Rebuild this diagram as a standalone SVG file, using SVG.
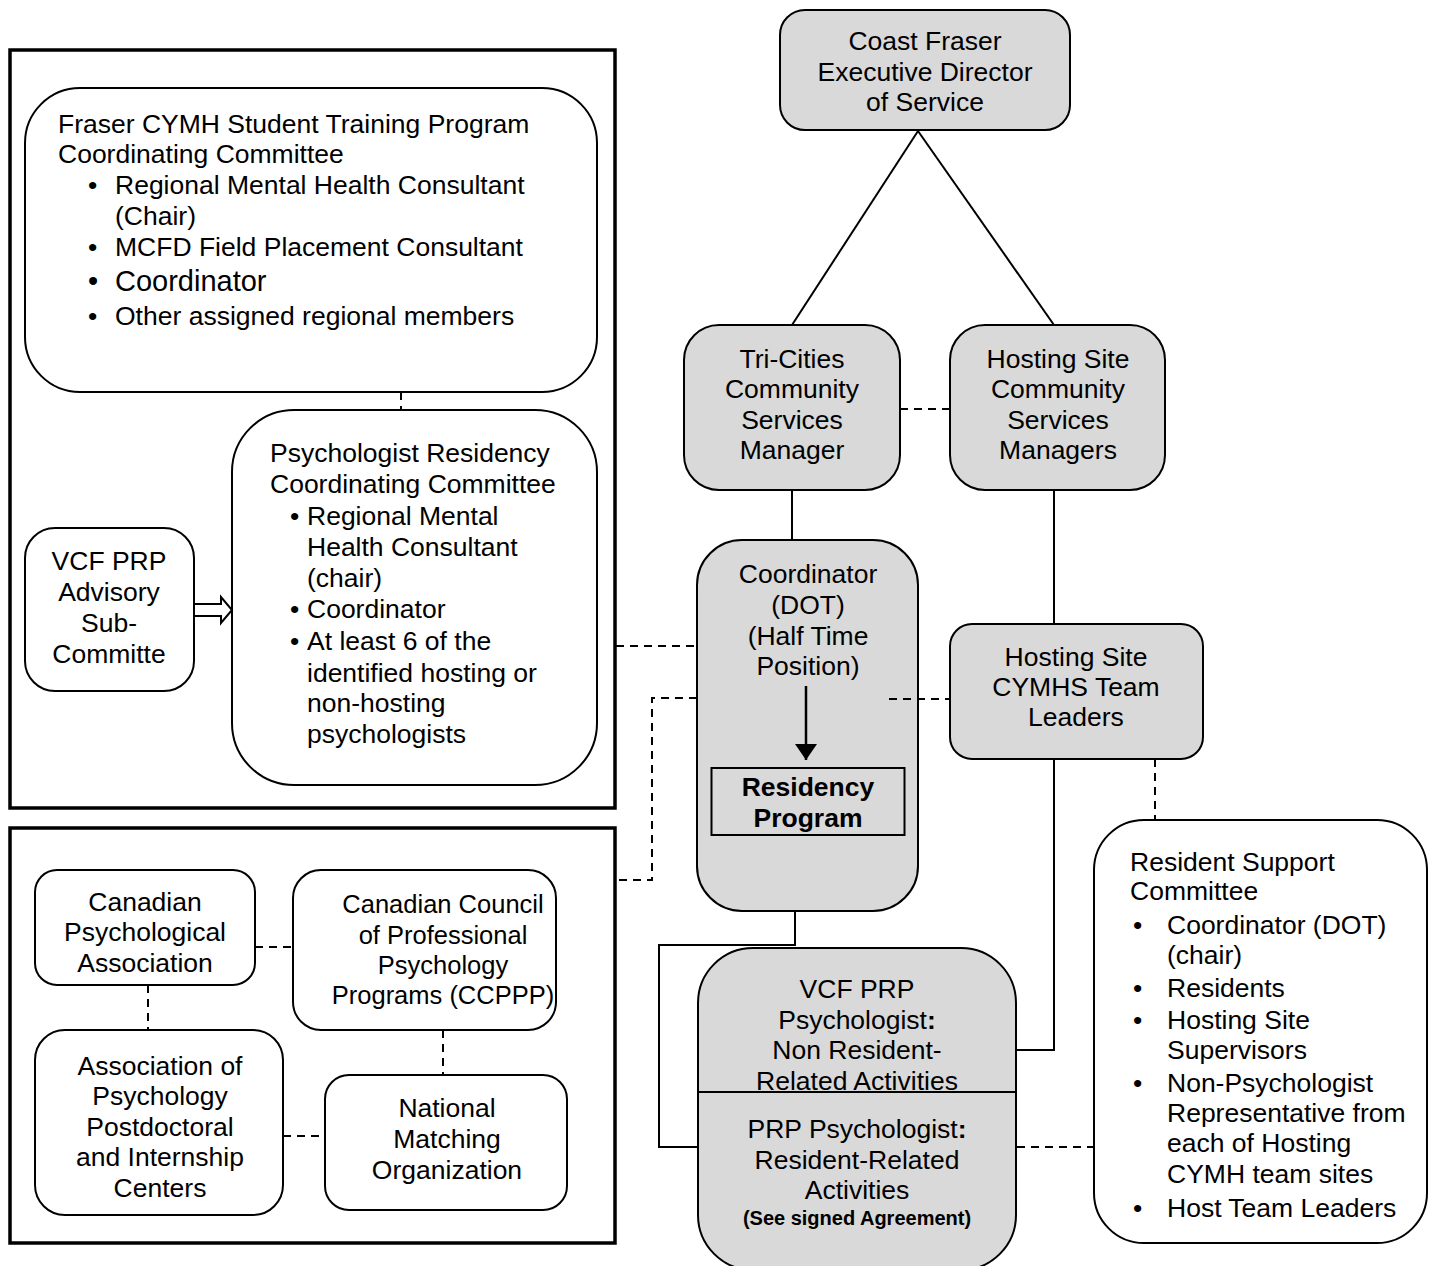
<svg xmlns="http://www.w3.org/2000/svg" width="1434" height="1266" viewBox="0 0 1434 1266">
<style>
text{font-family:"Liberation Sans",Arial,sans-serif;font-size:26.5px;fill:#000}
.c{text-anchor:middle}
.b{font-weight:bold}
.n{fill:#fff;stroke:#000;stroke-width:2}
.g{fill:#d9d9d9;stroke:#000;stroke-width:2}
.box{fill:none;stroke:#000;stroke-width:3.5}
.s{fill:none;stroke:#000;stroke-width:2}
.d{fill:none;stroke:#000;stroke-width:2;stroke-dasharray:8,6}
</style>
<defs>
<marker id="ah" viewBox="0 0 16 22" refX="16" refY="11" markerWidth="16" markerHeight="22" markerUnits="userSpaceOnUse" orient="auto">
<path d="M0,0 L16,11 L0,22 Z" fill="#000"/>
</marker>
</defs>
<rect width="1434" height="1266" fill="#fff"/>

<g id="group-top">
<rect class="box" x="10" y="50" width="605" height="758"/>
</g>
<g id="group-bottom">
<rect class="box" x="10" y="828" width="605" height="415"/>
</g>

<g id="fraser-committee">
<rect class="n" x="25" y="88" width="572" height="304" rx="55"/>
<text x="58" y="133">Fraser CYMH Student Training Program</text>
<text x="58" y="163">Coordinating Committee</text>
<text x="88" y="194">•</text><text x="115" y="194">Regional Mental Health Consultant</text>
<text x="115" y="225">(Chair)</text>
<text x="88" y="256">•</text><text x="115" y="256">MCFD Field Placement Consultant</text>
<text x="88" y="291" style="font-size:29px">•</text><text x="115" y="291" style="font-size:29px">Coordinator</text>
<text x="88" y="325">•</text><text x="115" y="325">Other assigned regional members</text>
</g>

<g id="residency-committee">
<rect class="n" x="232" y="410" width="365" height="375" rx="62"/>
<text x="270" y="462">Psychologist Residency</text>
<text x="270" y="493">Coordinating Committee</text>
<text x="290" y="525">•</text><text x="307" y="525">Regional Mental</text>
<text x="307" y="556">Health Consultant</text>
<text x="307" y="587">(chair)</text>
<text x="290" y="618">•</text><text x="307" y="618">Coordinator</text>
<text x="290" y="650">•</text><text x="307" y="650">At least 6 of the</text>
<text x="307" y="682">identified hosting or</text>
<text x="307" y="712">non-hosting</text>
<text x="307" y="743">psychologists</text>
</g>

<g id="advisory">
<rect class="n" x="25" y="528" width="169" height="163" rx="30"/>
<text class="c" x="109" y="570">VCF PRP</text>
<text class="c" x="109" y="601">Advisory</text>
<text class="c" x="109" y="632">Sub-</text>
<text class="c" x="109" y="663">Committe</text>
</g>

<g id="coast-fraser">
<rect class="g" x="780" y="10" width="290" height="120" rx="25"/>
<text class="c" x="925" y="50">Coast Fraser</text>
<text class="c" x="925" y="81">Executive Director</text>
<text class="c" x="925" y="111">of Service</text>
</g>

<g id="tri-cities">
<rect class="g" x="684" y="325" width="216" height="165" rx="35"/>
<text class="c" x="792" y="368">Tri-Cities</text>
<text class="c" x="792" y="398">Community</text>
<text class="c" x="792" y="429">Services</text>
<text class="c" x="792" y="459">Manager</text>
</g>

<g id="hosting-csm">
<rect class="g" x="950" y="325" width="215" height="165" rx="35"/>
<text class="c" x="1058" y="368">Hosting Site</text>
<text class="c" x="1058" y="398">Community</text>
<text class="c" x="1058" y="429">Services</text>
<text class="c" x="1058" y="459">Managers</text>
</g>

<g id="coordinator">
<rect class="g" x="697" y="540" width="221" height="371" rx="45"/>
<text class="c" x="808" y="583">Coordinator</text>
<text class="c" x="808" y="614">(DOT)</text>
<text class="c" x="808" y="645">(Half Time</text>
<text class="c" x="808" y="675">Position)</text>
</g>

<g id="residency-program">
<rect x="711.5" y="768" width="193" height="67" fill="none" stroke="#000" stroke-width="2"/>
<text class="c b" x="808" y="796">Residency</text>
<text class="c b" x="808" y="827">Program</text>
</g>

<g id="team-leaders">
<rect class="g" x="950" y="624" width="253" height="135" rx="22"/>
<text class="c" x="1076" y="666">Hosting Site</text>
<text class="c" x="1076" y="696">CYMHS Team</text>
<text class="c" x="1076" y="726">Leaders</text>
</g>

<g id="prp-psychologist">
<rect class="g" x="698" y="948" width="318" height="322" rx="55"/>
<text class="c" x="857" y="998">VCF PRP</text>
<text class="c" x="857" y="1029">Psychologist<tspan class="b">:</tspan></text>
<text class="c" x="857" y="1059">Non Resident-</text>
<text class="c" x="857" y="1090">Related Activities</text>
<line x1="698" y1="1092" x2="1016" y2="1092" stroke="#000" stroke-width="2"/>
<text class="c" x="857" y="1138">PRP Psychologist<tspan class="b">:</tspan></text>
<text class="c" x="857" y="1169">Resident-Related</text>
<text class="c" x="857" y="1199">Activities</text>
<text class="c b" x="857" y="1225" style="font-size:20px">(See signed Agreement)</text>
</g>

<g id="resident-support">
<rect class="n" x="1094" y="820" width="333" height="423" rx="50"/>
<text x="1130" y="871">Resident Support</text>
<text x="1130" y="900">Committee</text>
<text x="1133" y="934">•</text><text x="1167" y="934">Coordinator (DOT)</text>
<text x="1167" y="964">(chair)</text>
<text x="1133" y="997">•</text><text x="1167" y="997">Residents</text>
<text x="1133" y="1029">•</text><text x="1167" y="1029">Hosting Site</text>
<text x="1167" y="1059">Supervisors</text>
<text x="1133" y="1092">•</text><text x="1167" y="1092">Non-Psychologist</text>
<text x="1167" y="1122">Representative from</text>
<text x="1167" y="1152">each of Hosting</text>
<text x="1167" y="1183">CYMH team sites</text>
<text x="1133" y="1217">•</text><text x="1167" y="1217">Host Team Leaders</text>
</g>

<g id="cpa">
<rect class="n" x="35" y="870" width="220" height="115" rx="22"/>
<text class="c" x="145" y="911">Canadian</text>
<text class="c" x="145" y="941">Psychological</text>
<text class="c" x="145" y="972">Association</text>
</g>

<g id="ccppp">
<rect class="n" x="293" y="870" width="263" height="160" rx="28"/>
<text class="c" x="443" y="913" style="font-size:25.5px">Canadian Council</text>
<text class="c" x="443" y="944" style="font-size:25.5px">of Professional</text>
<text class="c" x="443" y="974" style="font-size:25.5px">Psychology</text>
<text class="c" x="443" y="1004" style="font-size:25.5px">Programs (CCPPP)</text>
</g>

<g id="appic">
<rect class="n" x="35" y="1030" width="248" height="185" rx="30"/>
<text class="c" x="160" y="1075">Association of</text>
<text class="c" x="160" y="1105">Psychology</text>
<text class="c" x="160" y="1136">Postdoctoral</text>
<text class="c" x="160" y="1166">and Internship</text>
<text class="c" x="160" y="1197">Centers</text>
</g>

<g id="nmo">
<rect class="n" x="325" y="1075" width="242" height="135" rx="24"/>
<text class="c" x="447" y="1117">National</text>
<text class="c" x="447" y="1148">Matching</text>
<text class="c" x="447" y="1179">Organization</text>
</g>

<g id="connectors">
<line class="s" x1="918" y1="131" x2="792" y2="325"/>
<line class="s" x1="918" y1="131" x2="1054" y2="325"/>
<line class="d" x1="900" y1="409" x2="950" y2="409"/>
<line class="s" x1="792" y1="490" x2="792" y2="540"/>
<line class="s" x1="1054" y1="490" x2="1054" y2="624"/>
<polyline class="s" points="1054,759 1054,1050 1017,1050"/>
<line class="d" x1="889" y1="699" x2="950" y2="699"/>
<line class="d" x1="1155" y1="759" x2="1155" y2="820"/>
<polyline class="s" points="795,911 795,945 659,945 659,1147 698,1147"/>
<line class="d" x1="1017" y1="1147" x2="1094" y2="1147"/>
<line class="d" x1="401" y1="392" x2="401" y2="410"/>
<line class="d" x1="616" y1="646" x2="697" y2="646"/>
<polyline class="d" points="697,698 652,698 652,880 616,880"/>
<line x1="806" y1="686" x2="806" y2="760" stroke="#000" stroke-width="2.5" marker-end="url(#ah)"/>
<polygon fill="#fff" stroke="#000" stroke-width="2" points="194,604 221,604 221,597 232,610 221,623 221,616 194,616"/>
<line class="d" x1="255" y1="947" x2="293" y2="947"/>
<line class="d" x1="148" y1="985" x2="148" y2="1030"/>
<line class="d" x1="443" y1="1030" x2="443" y2="1075"/>
<line class="d" x1="283" y1="1136" x2="325" y2="1136"/>
</g>
</svg>
